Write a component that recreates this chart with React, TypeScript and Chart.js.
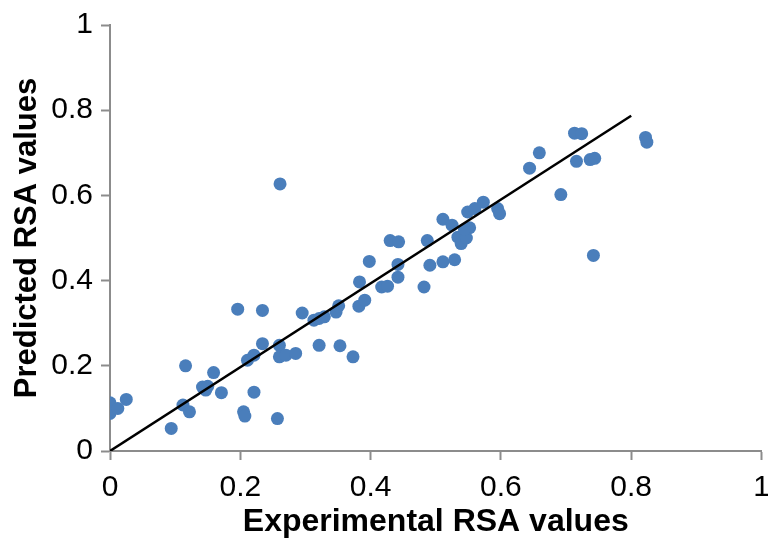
import React, { useEffect, useRef } from "react";
import { Chart, registerables } from "chart.js";

Chart.register(...registerables);

const experimental: number[] = [
  0.0, 0.0, 0.012, 0.025, 0.094, 0.116, 0.112, 0.122, 0.159, 0.142,
  0.150, 0.147, 0.171, 0.196, 0.205, 0.207, 0.211, 0.221, 0.221, 0.234,
  0.234, 0.257, 0.261, 0.260, 0.260, 0.270, 0.285, 0.295, 0.313, 0.321,
  0.329, 0.321, 0.347, 0.351, 0.353, 0.373, 0.382, 0.391, 0.383, 0.398,
  0.417, 0.426, 0.430, 0.443, 0.442, 0.442, 0.482, 0.487, 0.491, 0.511,
  0.529, 0.511, 0.525, 0.534, 0.539, 0.547, 0.552, 0.544, 0.549, 0.560,
  0.573, 0.595, 0.598, 0.644, 0.659, 0.692, 0.713, 0.724, 0.716, 0.737,
  0.744, 0.742, 0.822, 0.824,
];

const predicted: number[] = [
  0.113, 0.088, 0.100, 0.121, 0.053, 0.200, 0.108, 0.092, 0.184, 0.150,
  0.152, 0.143, 0.137, 0.333, 0.092, 0.082, 0.213, 0.225, 0.138, 0.330,
  0.252, 0.076, 0.627, 0.248, 0.221, 0.225, 0.229, 0.324, 0.307, 0.311,
  0.315, 0.248, 0.326, 0.341, 0.247, 0.221, 0.340, 0.354, 0.397, 0.445,
  0.385, 0.387, 0.494, 0.491, 0.438, 0.408, 0.385, 0.494, 0.436, 0.444,
  0.449, 0.544, 0.530, 0.502, 0.487, 0.500, 0.524, 0.520, 0.561, 0.569,
  0.584, 0.569, 0.557, 0.664, 0.700, 0.602, 0.746, 0.745, 0.680, 0.684,
  0.687, 0.459, 0.736, 0.725,
];

const fitLineX: number[] = [0, 0.8];
const fitLineY: number[] = [0, 0.787];

const xTitle = "Experimental RSA values";
const yTitle = "Predicted RSA values";

export default function App() {
  const ref = useRef<HTMLCanvasElement | null>(null);

  useEffect(() => {
    document.body.style.margin = "0";
    const canvas = ref.current;
    if (!canvas) return;
    const axisColor = "#8c8c8c";
    const font = "'Liberation Sans', Arial, Helvetica, sans-serif";
    const chart = new Chart(canvas, {
      type: "scatter",
      data: {
        datasets: [
          {
            type: "line",
            data: fitLineX.map((x, i) => ({ x, y: fitLineY[i] })),
            borderColor: "#000000",
            borderWidth: 2.5,
            pointRadius: 0,
            fill: false,
            order: 0,
          },
          {
            type: "scatter",
            data: experimental.map((x, i) => ({ x, y: predicted[i] })),
            backgroundColor: "#4a7ebb",
            borderColor: "#4a7ebb",
            borderWidth: 0,
            pointRadius: 6.5,
            order: 1,
          },
        ],
      },
      options: {
        responsive: false,
        animation: false,
        layout: { padding: { top: 25, right: 1, left: 0, bottom: 0 } },
        plugins: {
          legend: { display: false },
          tooltip: { enabled: false },
        },
        scales: {
          x: {
            type: "linear",
            min: 0,
            max: 1,
            ticks: {
              stepSize: 0.2,
              color: "#000",
              font: { family: font, size: 30 },
              padding: 10,
              maxRotation: 0,
              callback: (v: any) => String(Math.round(Number(v) * 10) / 10),
            },
            grid: {
              drawOnChartArea: false,
              drawTicks: true,
              tickLength: 9,
              tickColor: axisColor,
              tickWidth: 2,
            },
            border: { color: axisColor, width: 2 },
            title: {
              display: true,
              text: xTitle,
              color: "#000",
              font: { family: font, size: 32, weight: "bold", lineHeight: 1 },
              padding: { top: 0, bottom: 0 },
            },
            afterFit: (scale: any) => {
              scale.height = 87;
              scale.paddingLeft = 0;
              scale.paddingRight = 0;
            },
          },
          y: {
            type: "linear",
            min: 0,
            max: 1,
            ticks: {
              stepSize: 0.2,
              color: "#000",
              font: { family: font, size: 30 },
              padding: 8,
              callback: (v: any) => String(Math.round(Number(v) * 10) / 10),
            },
            grid: {
              drawOnChartArea: false,
              drawTicks: true,
              tickLength: 9,
              tickColor: axisColor,
              tickWidth: 2,
            },
            border: { color: axisColor, width: 2 },
            title: {
              display: true,
              text: yTitle,
              color: "#000",
              font: { family: font, size: 31, weight: "bold", lineHeight: 1 },
              padding: { top: 12, bottom: 0 },
            },
            afterFit: (scale: any) => {
              scale.width = 110;
              scale.paddingTop = 0;
              scale.paddingBottom = 0;
            },
          },
        },
      },
    } as any);
    return () => chart.destroy();
  }, []);

  return <canvas ref={ref} width={768} height={538} style={{ display: "block" }} />;
}
